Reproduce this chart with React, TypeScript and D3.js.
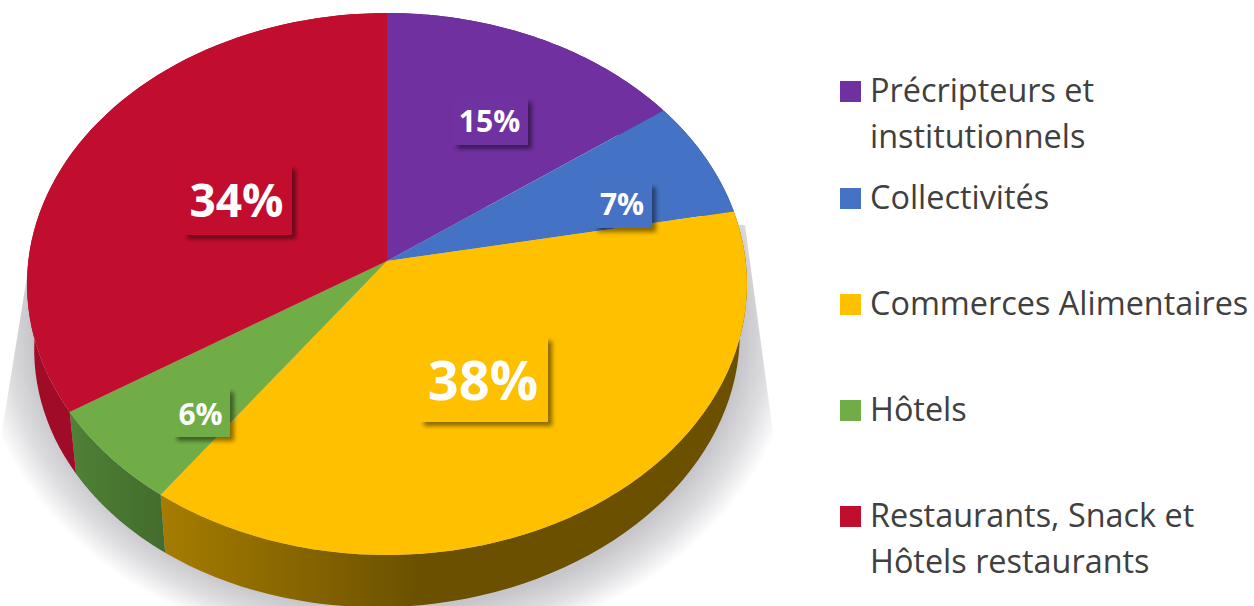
import React from "react";
import * as d3 from "d3";

const categories = ["Précripteurs et institutionnels", "Collectivités", "Commerces Alimentaires", "Hôtels", "Restaurants, Snack et Hôtels restaurants"];
const shares = [15, 7, 38, 6, 34];
const shareLabels = ["15%", "7%", "38%", "6%", "34%"];
const legendLines = [["Précripteurs et", "institutionnels"], ["Collectivités"], ["Commerces Alimentaires"], ["Hôtels"], ["Restaurants, Snack et", "Hôtels restaurants"]];

const topColors = ["#7030a0", "#4472c4", "#ffc000", "#70ad47", "#c20e2e"];
const sideFills = ["#4a1f6b", "#2d4c83", "url(#sideYellow)", "url(#sideGreen)", "#a00b28"];
const legendY = [81, 188, 294, 400, 506];
const labelBoxes = [
  { x: 453, y: 98, w: 75, h: 47, fs: 30, ty: 132 },
  { x: 594, y: 183, w: 58, h: 45, fs: 30, ty: 215 },
  { x: 420, y: 337, w: 128, h: 85, fs: 54, ty: 400 },
  { x: 173, y: 388, w: 57, h: 49, fs: 30, ty: 425 },
  { x: 183, y: 165, w: 109, h: 70, fs: 46, ty: 217 },
];

const FONT = "'Open Sans', 'Noto Sans', sans-serif";
const CX = 387, CY = 261, A = 358.7, B = 269, K = 0.0849;

function project(theta: number): [number, number] {
  const u = Math.sin(theta), v = Math.cos(theta), w = 1 + K * v;
  return [CX + (A * u) / w, CY - (B * v) / w];
}
function projectBottom(theta: number): [number, number] {
  const [x, y] = project(theta);
  const s = 0.98;
  return [CX + s * (x - CX), CY + 58 - 8 * Math.sin(theta) + s * (y - CY)];
}
const samples = (a0: number, a1: number) => d3.range(0, 61).map((i) => d3.interpolateNumber(a0, a1)(i / 60));
const line = d3.line<[number, number]>().x((d) => d[0]).y((d) => d[1]);

export default function App() {
  const arcs = d3.pie<number>().sort(null)(shares);
  return (
    <svg width={1254} height={606} style={{ position: "absolute", left: 0, top: 0, background: "#fff" }}>
      <defs>
        <radialGradient id="shadowFade" cx="0.5" cy="0.5" r="0.5">
          <stop offset="0.86" stopColor="#c6c6ca" />
          <stop offset="0.93" stopColor="#dedee1" />
          <stop offset="1" stopColor="#ffffff" />
        </radialGradient>
        <linearGradient id="sideYellow" gradientUnits="userSpaceOnUse" x1={160} x2={420} y1={0} y2={0}>
          <stop offset="0" stopColor="#a67d00" />
          <stop offset="1" stopColor="#6b5000" />
        </linearGradient>
        <linearGradient id="sideGreen" gradientUnits="userSpaceOnUse" x1={75} x2={165} y1={0} y2={0}>
          <stop offset="0" stopColor="#4f8036" />
          <stop offset="1" stopColor="#426c2c" />
        </linearGradient>
        <clipPath id="shadowClip">
          <polygon points="745,225 772,425 800,640 -30,640 3,425 28,270 387,200" />
        </clipPath>
        <filter id="lblShadow" x="-30%" y="-30%" width="170%" height="170%">
          <feGaussianBlur in="SourceAlpha" stdDeviation="2.2" result="b" />
          <feOffset in="b" dx="4" dy="4" result="o" />
          <feFlood floodColor="#000" floodOpacity="0.45" />
          <feComposite in2="o" operator="in" />
          <feMerge>
            <feMergeNode />
            <feMergeNode in="SourceGraphic" />
          </feMerge>
        </filter>
      </defs>

      <g clipPath="url(#shadowClip)">
        <ellipse cx={387} cy={325} rx={412} ry={330} fill="url(#shadowFade)" />
      </g>

      {arcs.map((a, i) => {
        const pts = samples(a.startAngle, a.endAngle);
        const poly = [...pts.map(project), ...pts.slice().reverse().map(projectBottom)];
        return <path key={"s" + i} d={line(poly) + "Z"} fill={sideFills[i]} />;
      })}
      {arcs.map((a, i) => {
        const poly: [number, number][] = [[CX, CY], ...samples(a.startAngle, a.endAngle).map(project)];
        return <path key={"t" + i} d={line(poly) + "Z"} fill={topColors[i]} aria-label={categories[i]} />;
      })}

      {arcs.map((_, i) => {
        const b = labelBoxes[i];
        return (
          <g key={"l" + i}>
            <rect x={b.x} y={b.y} width={b.w} height={b.h} fill={topColors[i]} filter="url(#lblShadow)" />
            <text x={b.x + b.w / 2 - 1} y={b.ty} textAnchor="middle" fontFamily={FONT} fontWeight={700} fontSize={b.fs} fill="#fff">
              {shareLabels[i]}
            </text>
          </g>
        );
      })}

      {legendLines.map((lines, i) => (
        <g key={"k" + i}>
          <rect x={840} y={legendY[i]} width={21} height={21} fill={topColors[i]} />
          {lines.map((t, j) => (
            <text key={j} x={870} y={legendY[i] + 21 + j * 45.5} fontFamily={FONT} fontSize={32.4} fill="#404040">
              {t}
            </text>
          ))}
        </g>
      ))}
    </svg>
  );
}
